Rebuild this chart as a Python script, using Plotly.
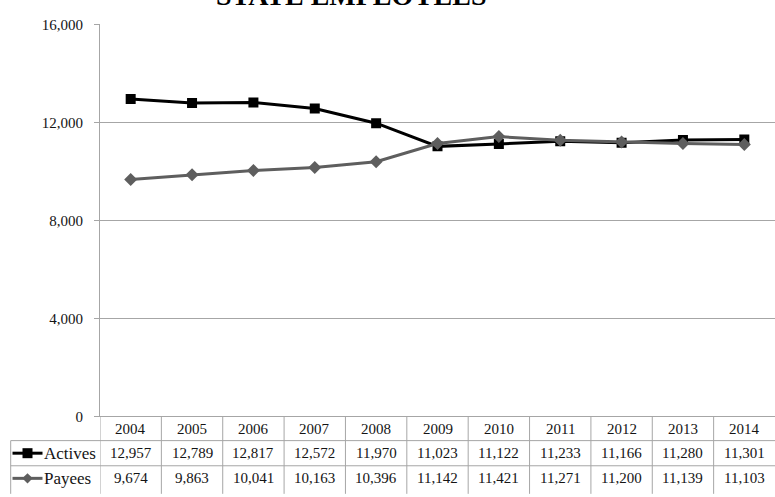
import plotly.graph_objects as go

# Headcount of state employees by year
years = ["2004", "2005", "2006", "2007", "2008", "2009", "2010", "2011", "2012", "2013", "2014"]
actives = [12957, 12789, 12817, 12572, 11970, 11023, 11122, 11233, 11166, 11280, 11301]
payees = [9674, 9863, 10041, 10163, 10396, 11142, 11421, 11271, 11200, 11139, 11103]
series_names = ["Actives", "Payees"]
y_ticks = [0, 4000, 8000, 12000, 16000]
title_text = "STATE EMPLOYEES"

W, H = 775, 497
PLOT_L, PLOT_T, PLOT_B = 100, 17, 422          # plot area edges in pixels
ROW_TOP = [422, 447, 473]                      # header / Actives / Payees row tops
ROW_MID = [435, 460, 486]
BOX_L = 10.7                                   # left edge of the label column

FONT = "Liberation Serif"
TXT = "#141414"
GRID = "#a6a6a6"
ACT_C = "#000000"
PAY_C = "#5e5e5e"


def py(px):
    """Figure pixel row -> paper fraction (margins are zero)."""
    return 1 - px / H


fig = go.Figure()

# Data series
fig.add_trace(go.Scatter(
    x=years, y=actives, name=series_names[0], mode="lines+markers",
    line=dict(color=ACT_C, width=3),
    marker=dict(symbol="square", size=10, color=ACT_C),
    xaxis="x", yaxis="y", showlegend=False))
fig.add_trace(go.Scatter(
    x=years, y=payees, name=series_names[1], mode="lines+markers",
    line=dict(color=PAY_C, width=3),
    marker=dict(symbol="diamond", size=10, color=PAY_C),
    xaxis="x", yaxis="y", showlegend=False))

# Legend keys inside the data table (pixel overlay axes x2/y2)
for name, color, sym, msize, ymid in [
    (series_names[0], ACT_C, "square", 10, ROW_MID[1]),
    (series_names[1], PAY_C, "diamond", 8, ROW_MID[2]),
]:
    fig.add_trace(go.Scatter(
        x=[12.5, 42.5], y=[ymid, ymid], mode="lines",
        line=dict(color=color, width=3), xaxis="x2", yaxis="y2",
        showlegend=False, hoverinfo="skip"))
    fig.add_trace(go.Scatter(
        x=[27.5], y=[ymid], mode="markers",
        marker=dict(symbol=sym, size=msize, color=color), xaxis="x2", yaxis="y2",
        showlegend=False, hoverinfo="skip"))

shapes = []
line_style = dict(color=GRID, width=1)
# Horizontal table rules
for yy in ROW_TOP[1:]:
    shapes.append(dict(type="line", xref="paper", yref="paper", x0=BOX_L / W, x1=1,
                       y0=py(yy), y1=py(yy), line=line_style))
# Label-column left border
shapes.append(dict(type="line", xref="paper", yref="paper", x0=BOX_L / W, x1=BOX_L / W,
                   y0=py(ROW_TOP[1]), y1=py(H + 5), line=line_style))
# Column separators follow the category scale
for i in range(len(years)):
    shapes.append(dict(type="line", xref="x", yref="paper", x0=i - 0.5, x1=i - 0.5,
                       y0=py(PLOT_B), y1=py(H + 5), line=line_style))

annotations = []
cell_font = dict(family=FONT, size=15, color=TXT)
label_font = dict(family=FONT, size=17, color=TXT)
# Header row (years)
for i, yr in enumerate(years):
    annotations.append(dict(x=i, y=py(ROW_MID[0]), xref="x", yref="paper", text=yr,
                            xanchor="center", yanchor="middle",
                            showarrow=False, font=cell_font))
# Value rows
for vals, ymid in [(actives, ROW_MID[1]), (payees, ROW_MID[2])]:
    for i, v in enumerate(vals):
        annotations.append(dict(x=i, y=py(ymid), xref="x", yref="paper", text=f"{v:,}",
                                xanchor="center", yanchor="middle",
                                showarrow=False, font=cell_font))
# Row labels
for name, ymid in zip(series_names, ROW_MID[1:]):
    annotations.append(dict(x=42 / W, y=py(ymid), xref="paper", yref="paper", text=name,
                            xanchor="left", yanchor="middle", showarrow=False,
                            font=label_font))
# Chart title (runs off the top edge)
annotations.append(dict(x=351 / W, y=py(5), xref="paper", yref="paper",
                        text=f"<b>{title_text}</b>",
                        xanchor="center", yanchor="bottom", showarrow=False,
                        font=dict(family=FONT, size=28, color="#000000")))

fig.update_layout(
    width=W, height=H,
    margin=dict(l=0, r=0, t=0, b=0),
    paper_bgcolor="white", plot_bgcolor="rgba(0,0,0,0)",
    xaxis=dict(
        domain=[PLOT_L / W, 1], range=[-0.5, len(years) - 0.5],
        type="category", showticklabels=False, ticks="", showgrid=False,
        showline=True, linecolor=GRID, linewidth=1, zeroline=False, anchor="y"),
    yaxis=dict(
        domain=[(H - PLOT_B) / H, (H - PLOT_T) / H], range=[0, 16000],
        tickvals=y_ticks, tickformat=",", ticks="outside", ticklen=5,
        tickcolor=GRID, ticklabelstandoff=8,
        tickfont=dict(family=FONT, size=15, color=TXT),
        showgrid=True, gridcolor=GRID, gridwidth=1,
        showline=True, linecolor=GRID, linewidth=1, zeroline=False, anchor="x"),
    xaxis2=dict(domain=[0, 1], range=[0, W], visible=False, anchor="y2"),
    yaxis2=dict(domain=[0, 1], range=[H, 0], visible=False, anchor="x2"),
    shapes=shapes,
    annotations=annotations,
)

fig.write_html("out.html")
